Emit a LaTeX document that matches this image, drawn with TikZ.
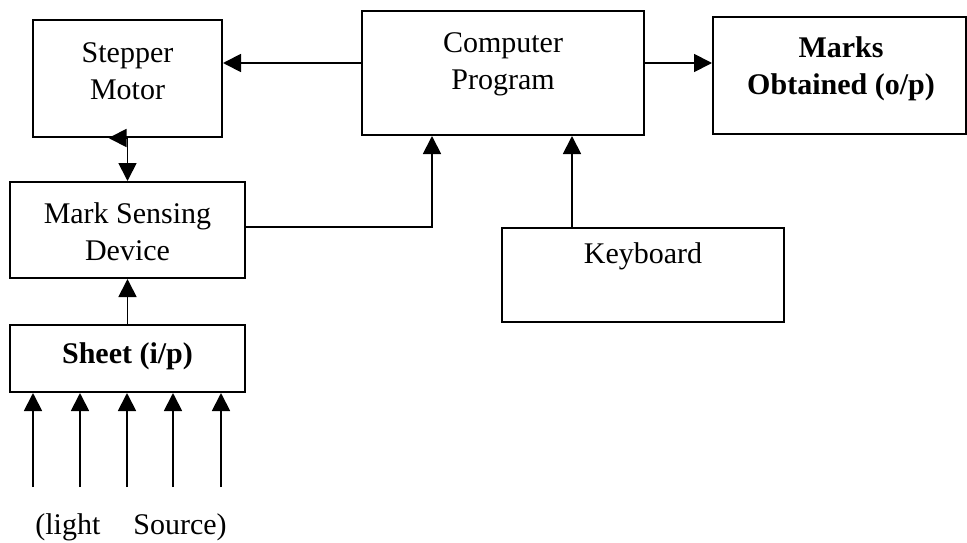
\documentclass[tikz,border=0pt]{standalone}
\usepackage{fontspec}
\setmainfont{Liberation Serif}
\usetikzlibrary{arrows.meta}

\tikzset{
  block/.style={draw, line width=2pt, rectangle, inner sep=0pt},
  txt/.style={align=center, inner sep=0pt, font=\fontsize{30}{37}\selectfont},
  arr/.style={line width=1.8pt, -{Triangle[length=18pt,width=18pt]}}
}

\begin{document}
\begin{tikzpicture}[x=1pt,y=-1pt]
  \useasboundingbox (0,0) rectangle (967,543);
  % boxes
  \node[block, minimum width=189pt, minimum height=117pt] (stepper) at (127.5,78.5) {};
  \node[block, minimum width=282pt, minimum height=124pt] (cp) at (503,73) {};
  \node[block, minimum width=253pt, minimum height=117pt] (marks) at (839.5,75.5) {};
  \node[block, minimum width=235pt, minimum height=96pt] (msd) at (127.5,230) {};
  \node[block, minimum width=282pt, minimum height=94pt] (kb) at (643,275) {};
  \node[block, minimum width=235pt, minimum height=67pt] (sheet) at (127.5,358.5) {};
  % texts inside the boxes
  \node[txt] (steppertxt) at (127.5,71) {Stepper\\Motor};
  \node[txt] (cptxt) at (503,64.5) {Computer\\Program};
  \node[txt, font=\fontsize{30}{37}\selectfont\bfseries] (markstxt) at (841,69) {Marks\\Obtained (o/p)};
  \node[txt] (msdtxt) at (127.5,231.5) {Mark Sensing\\Device};
  \node[txt] (kbtxt) at (643,256) {Keyboard};
  \node[txt, font=\fontsize{30}{37}\selectfont\bfseries] (sheettxt) at (127.5,356) {Sheet (i/p)};
  % connectors
  \draw[arr] ([yshift=10pt]cp.west) coordinate (cpl) -- (stepper.east |- cpl);
  \draw[arr] ([yshift=10pt]cp.east) coordinate (cpr) -- (marks.west |- cpr);
  \draw[arr] (stepper.south) -- (msd.north);
  \draw[arr] (stepper.south) -- ++(-19,0); % odd tip on the lower edge
  \draw[arr] ([yshift=3pt]msd.east) -| ([xshift=-71pt]cp.south);
  \draw[arr] ([xshift=-71pt]kb.north) coordinate (kbt) -- (kbt |- cp.south);
  \draw[arr] (sheet.north) -- (msd.south);
  % light source arrows
  \foreach \x [count=\i] in {33,80,127,173,221} {
    \coordinate (src\i) at (\x,487);
    \draw[arr] (src\i) -- (src\i |- sheet.south);
  }
  \node[txt] (lightsrc) at (131,527) {(light\hspace{33pt}Source)};
\end{tikzpicture}
\end{document}
